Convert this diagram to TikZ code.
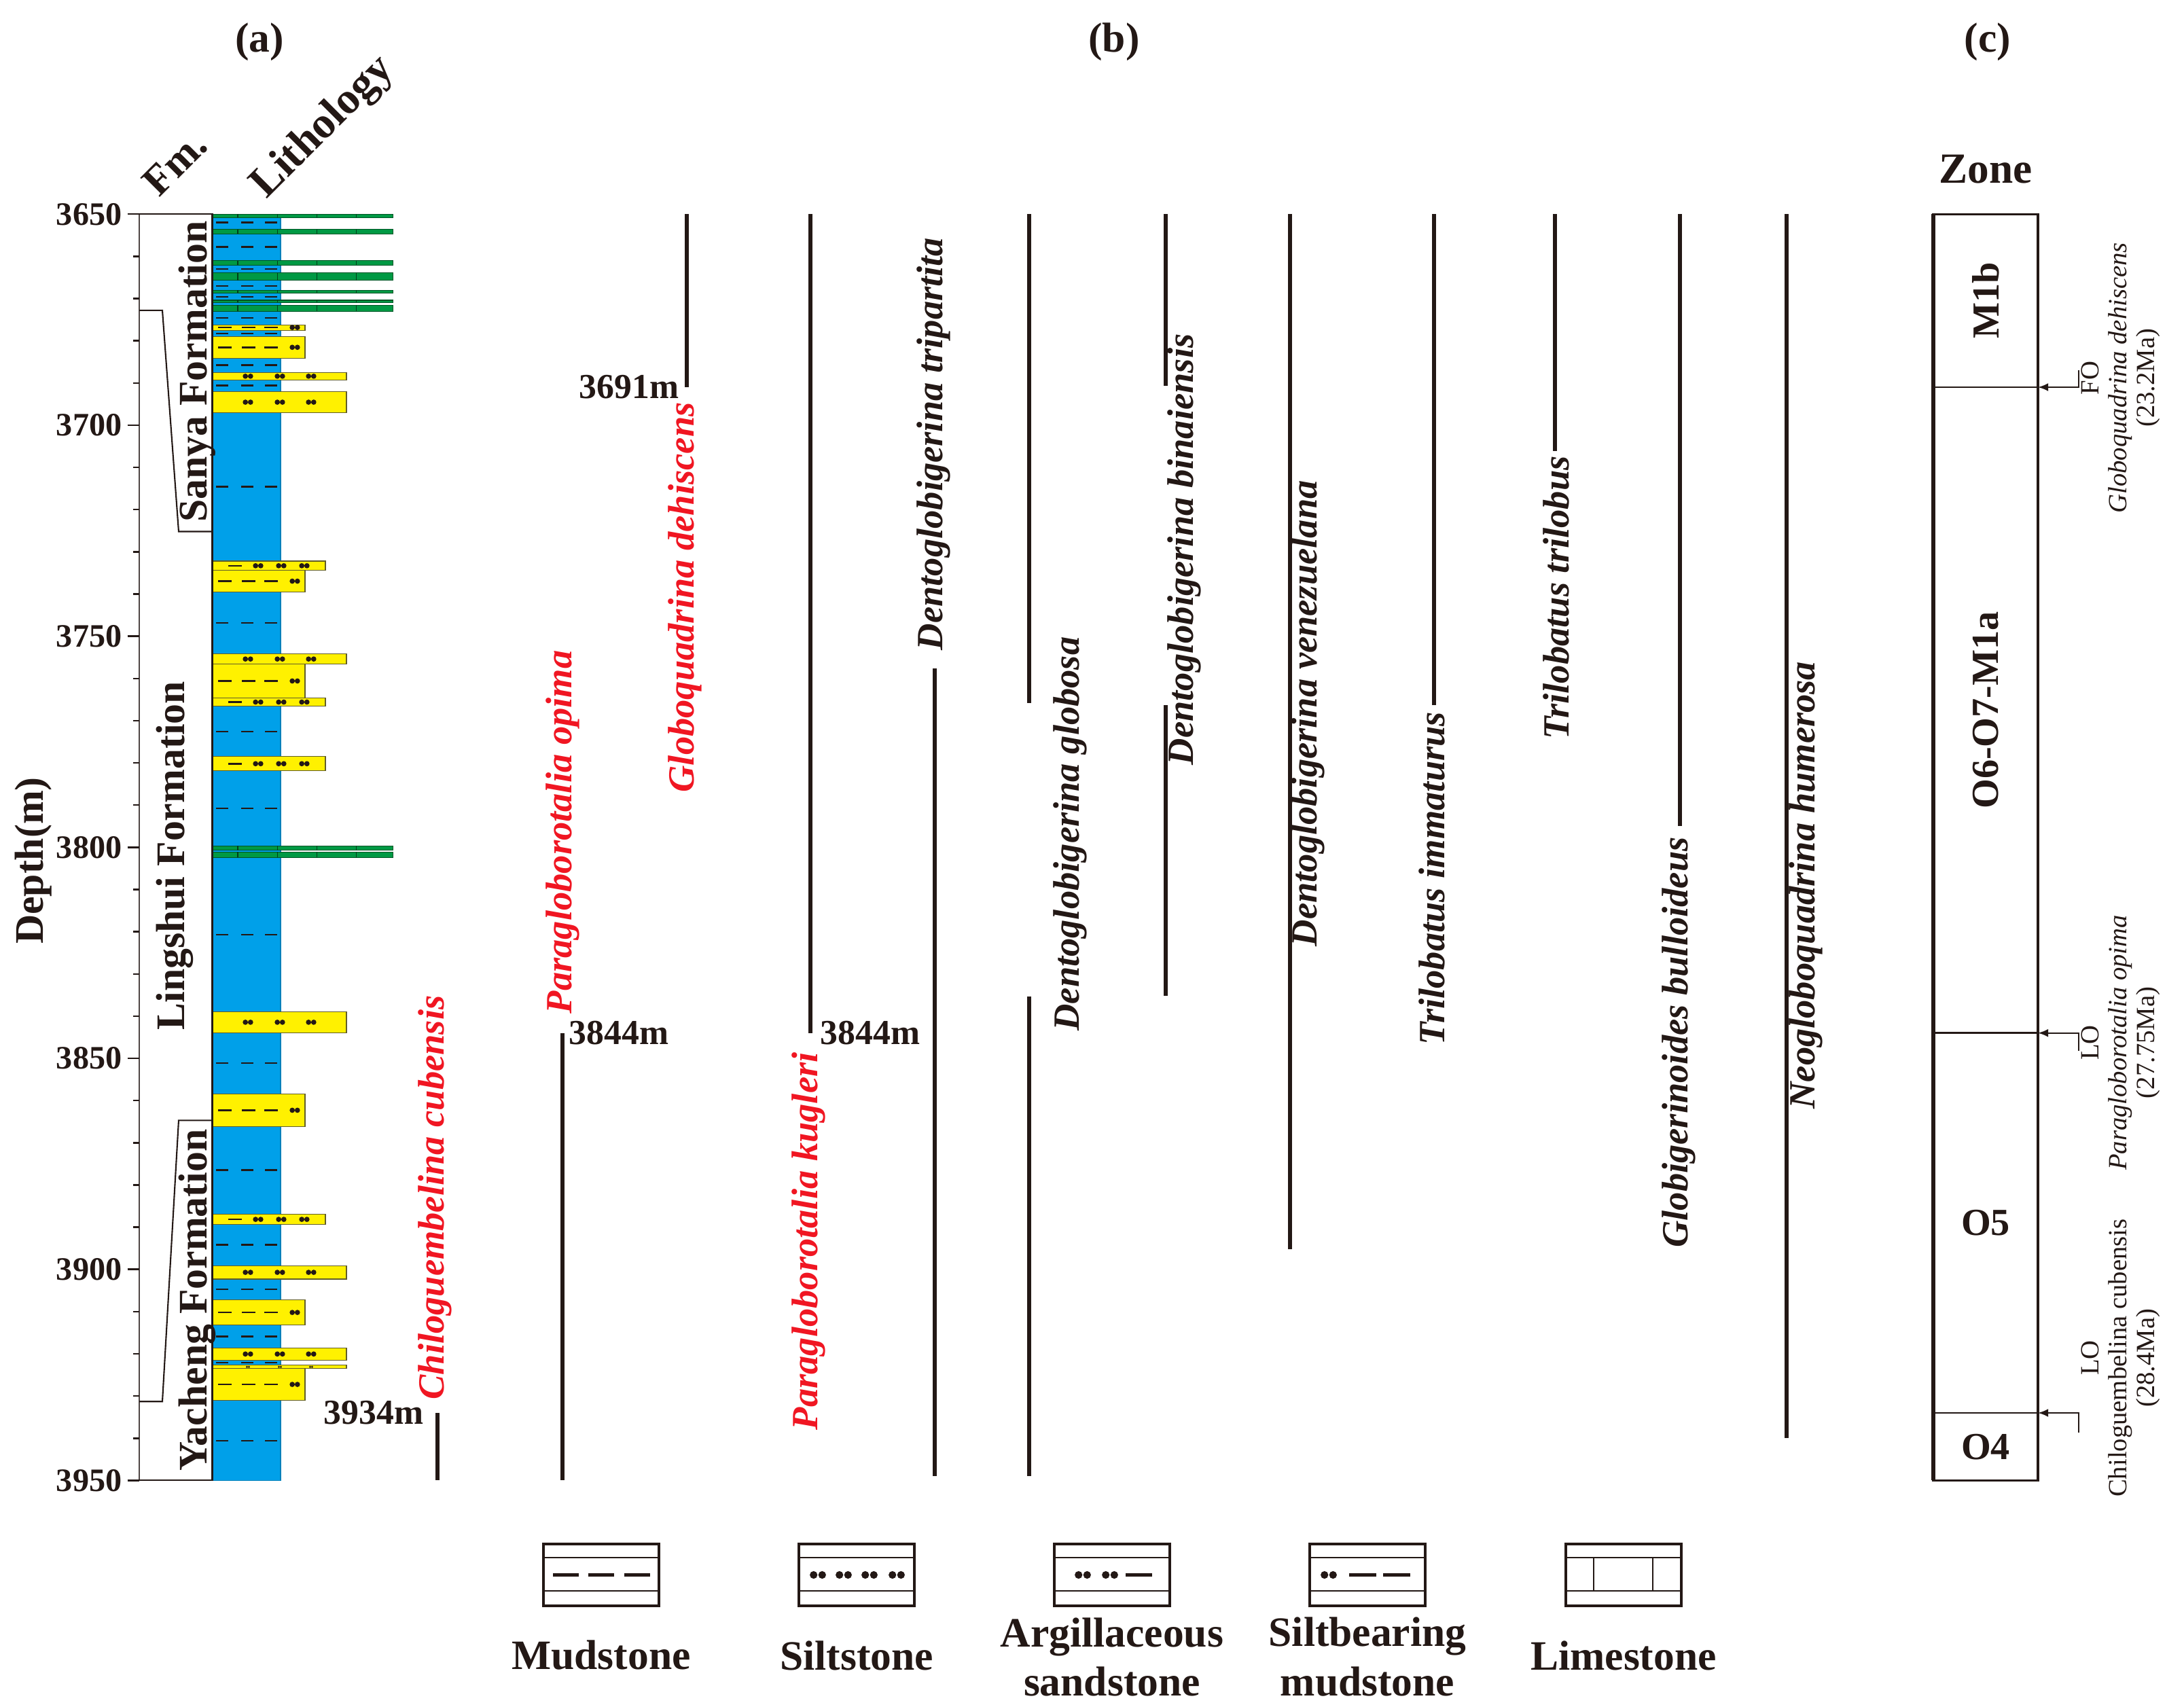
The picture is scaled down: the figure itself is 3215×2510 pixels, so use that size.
\documentclass[tikz,border=0pt]{standalone}
\usepackage{fontspec}
\setmainfont{Liberation Serif}
\usetikzlibrary{arrows.meta}
\definecolor{ink}{RGB}{35,24,21}
\definecolor{mudblue}{RGB}{0,160,233}
\definecolor{siltyel}{RGB}{255,241,0}
\definecolor{limegrn}{RGB}{0,153,68}
\definecolor{fossred}{RGB}{240,22,34}
\tikzset{
  rangeline/.style={draw=ink, line width=1.8pt},
  taxon/.style={rotate=90, inner sep=0pt, text=ink, font=\fontsize{15.5}{16}\selectfont\bfseries\itshape},
  redtaxon/.style={taxon, text=fossred},
  depthlbl/.style={inner sep=0pt, text=ink, font=\fontsize{13.7}{14}\selectfont\bfseries},
  taglbl/.style={inner sep=0pt, text=ink, font=\fontsize{14.7}{15}\selectfont\bfseries},
  fmlbl/.style={rotate=90, inner sep=0pt, text=ink, font=\fontsize{17}{18}\selectfont\bfseries},
  headlbl/.style={inner sep=0pt, text=ink, font=\fontsize{17.5}{18}\selectfont\bfseries},
  zonelbl/.style={inner sep=0pt, text=ink, font=\fontsize{16}{17}\selectfont\bfseries},
  datum/.style={rotate=90, inner sep=0pt, align=center, text=ink, font=\fontsize{11}{11.6}\selectfont},
  legtext/.style={inner sep=0pt, align=center, text=ink, font=\fontsize{17.5}{20.5}\selectfont\bfseries},
  marker/.style={draw=ink, line width=0.7pt},
  bedline/.style={draw=olive!60!black, line width=0.3pt},
  tip/.style={draw=ink, line width=0.7pt, -{Latex[length=4.3pt,width=3.4pt]}},
}
\newcommand{\mudmark}[1]{\foreach \mx in {318,355,390}{\draw[marker] (\mx,#1) -- ++(18,0);}}
\newcommand{\grains}[2]{\fill[ink] (#1-3.8,{#2}) circle[radius=1.1pt] (#1+3.8,{#2}) circle[radius=1.1pt];}
\newcommand{\limebed}[2]{%
  \filldraw[fill=limegrn, draw=limegrn!55!black, line width=0.3pt] (312.5,#1) rectangle (578.5,#2);
  \foreach \lx in {350,408.5,466.5,524.5}{\draw[limegrn!40!black, line width=0.4pt] (\lx,#1) -- (\lx,#2);}}
\newcommand{\siltbed}[2]{%
  \filldraw[fill=siltyel, bedline] (312.5,#1) rectangle (510,#2);
  \foreach \gx in {365,412,458}{\grains{\gx}{(#1+#2)/2}}}
\newcommand{\argbed}[2]{%
  \filldraw[fill=siltyel, bedline] (312.5,#1) rectangle (479,#2);
  \draw[marker] (336,{(#1+#2)/2}) -- ++(20,0);
  \foreach \gx in {380,414,448}{\grains{\gx}{(#1+#2)/2}}}
\newcommand{\smudbed}[2]{%
  \filldraw[fill=siltyel, bedline] (312.5,#1) rectangle (449,#2);
  \foreach \mx in {321,356,389}{\draw[marker] (\mx,{(#1+#2)/2}) -- ++(20,0);}
  \grains{434}{(#1+#2)/2}}
\newcommand{\legbox}[1]{%
  \draw[ink, line width=1.1pt] (#1-85,2273) rectangle (#1+85,2364);
  \draw[ink, line width=0.6pt] (#1-85,2293) -- (#1+85,2293) (#1-85,2342) -- (#1+85,2342);}
\newcommand{\leggrains}[1]{\fill[ink] (#1-6.3,2318.5) circle[radius=1.6pt] (#1+6.3,2318.5) circle[radius=1.6pt];}
\begin{document}
\begin{tikzpicture}[x=0.01cm, y=-0.01cm]
\useasboundingbox (0,0) rectangle (3215,2510);
\fill[white] (0,0) rectangle (3215,2510);
\node[headlbl] (hda) at (382,62) {(a)};
\node[headlbl] (hdb) at (1640,62) {(b)};
\node[headlbl] (hdc) at (2926,62) {(c)};
\node[headlbl, anchor=base west, rotate=45] (hfm) at (234,292) {Fm.};
\node[headlbl, anchor=base west, rotate=45, font=\fontsize{18.5}{19}\selectfont\bfseries] (hlith) at (392,294) {Lithology};
\node[headlbl, rotate=90, font=\fontsize{17}{18}\selectfont\bfseries] (hdepth) at (49,1267) {Depth(m)};
\node[headlbl, font=\fontsize{18}{19}\selectfont\bfseries] (hzone) at (2923,249) {Zone};
\begin{scope}[y=-0.0621cm, yshift=223.525cm]
\filldraw[fill=mudblue, draw=mudblue!80!black, line width=0.3pt] (312.5,3650) rectangle (413,3950);
\foreach \d in {3652,3657.8,3663,3667,3669.6,3674.6,3678.3,3685.8,3690.6,3714.6,3746.8,3772.6,3790.8,3820.7,3851.1,3876.5,3894.2,3904.7,3915.9,3922.1,3940.6}{\mudmark{\d}}
\limebed{3650}{3650.8}
\limebed{3653.6}{3654.7}
\limebed{3661}{3662.1}
\limebed{3663.9}{3665.7}
\limebed{3668}{3668.7}
\limebed{3670.4}{3670.9}
\limebed{3671.6}{3673}
\limebed{3799.7}{3800.7}
\limebed{3801.1}{3802.4}
\smudbed{3676.2}{3677.5}
\smudbed{3679}{3684.1}
\siltbed{3687.5}{3689.3}
\siltbed{3692}{3697.1}
\argbed{3732.2}{3734.4}
\smudbed{3734.4}{3739.5}
\siltbed{3754.2}{3756.6}
\smudbed{3756.6}{3764.6}
\argbed{3764.6}{3766.6}
\argbed{3778.5}{3781.9}
\siltbed{3838.9}{3844}
\smudbed{3858.5}{3866.1}
\argbed{3887}{3889.3}
\siltbed{3899.1}{3902.3}
\smudbed{3907.2}{3913.2}
\siltbed{3918.6}{3921.5}
\filldraw[fill=siltyel, bedline] (312.5,3922.7) rectangle (510,3923.5);
\foreach \gx in {365,412,458}{\fill[ink] (\gx-1.5,3923.1) circle[radius=0.45pt] (\gx+1.5,3923.1) circle[radius=0.45pt];}
\smudbed{3923.5}{3931}
\draw[ink!80, line width=0.6pt] (205,3650) -- (205,3950);
\foreach \d in {3660,3670,...,3940}{\draw[ink, line width=0.7pt] (196,\d) -- (205,\d);}
\foreach \d in {3650,3700,...,3950}{
  \draw[ink, line width=0.7pt] (187.5,\d) -- (205,\d);
  \node[depthlbl, anchor=east] (dep\d) at (180,\d) {\d};}
\draw[ink, line width=0.6pt] (205,3650) -- (312.5,3650) -- (312.5,3950) -- (205,3950);
\draw[ink, line width=0.6pt] (205,3672.8) -- (239,3672.8) -- (263,3725.2) -- (312.5,3725.2);
\draw[ink, line width=0.6pt] (312.5,3864.7) -- (263,3864.7) -- (239,3931.3) -- (205,3931.3);
\node[fmlbl] (fmsanya) at (290,3687.3) {Sanya Formation};
\node[fmlbl] (fmling) at (257,3802) {Lingshui Formation};
\node[fmlbl] (fmyach) at (290,3907.3) {Yacheng Formation};
\draw[rangeline] (644,3934) -- (644,3950);
\draw[rangeline] (828,3844) -- (828,3950);
\draw[rangeline] (1011,3650) -- (1011,3691);
\draw[rangeline] (1193,3650) -- (1193,3844);
\draw[rangeline] (1376,3757.6) -- (1376,3949);
\draw[rangeline] (1515,3650) -- (1515,3765.9) (1515,3835.3) -- (1515,3949);
\draw[rangeline] (1716,3650) -- (1716,3690.7) (1716,3766.3) -- (1716,3835.2);
\draw[rangeline] (1899,3650) -- (1899,3895.2);
\draw[rangeline] (2111,3650) -- (2111,3766.3);
\draw[rangeline] (2289,3650) -- (2289,3706.2);
\draw[rangeline] (2473,3650) -- (2473,3794.9);
\draw[rangeline] (2630,3650) -- (2630,3940);
\node[redtaxon, anchor=west] (chilo) at (640,3931) {Chiloguembelina cubensis};
\node[taglbl, anchor=east] (tag3934) at (624,3934) {3934m};
\node[redtaxon, anchor=west] (opima) at (828,3839.5) {Paragloborotalia opima};
\node[taglbl, anchor=west] (tag3844a) at (837,3844) {3844m};
\node[redtaxon, anchor=east] (dehis) at (1008,3694.5) {Globoquadrina dehiscens};
\node[taglbl, anchor=east] (tag3691) at (1000,3691) {3691m};
\node[redtaxon, anchor=east] (kugl) at (1190,3848.5) {Paragloborotalia kugleri};
\node[taglbl, anchor=west] (tag3844b) at (1207,3844) {3844m};
\node[taxon, anchor=west] (tripa) at (1374,3753.4) {Dentoglobigerina tripartita};
\node[taxon, anchor=west] (globo) at (1575,3843.6) {Dentoglobigerina globosa};
\node[taxon, anchor=west] (binai) at (1743,3780.6) {Dentoglobigerina binaiensis};
\node[taxon, anchor=west] (venez) at (1925,3823.6) {Dentoglobigerina venezuelana};
\node[taxon, anchor=east] (immat) at (2108,3767.8) {Trilobatus immaturus};
\node[taxon, anchor=east] (trilo) at (2291,3707.2) {Trilobatus trilobus};
\node[taxon, anchor=east] (bullo) at (2471,3797.5) {Globigerinoides bulloideus};
\node[taxon, anchor=west] (humer) at (2658,3862.1) {Neogloboquadrina humerosa};
\draw[ink, line width=0.9pt] (2846,3650) rectangle (3000,3950);
\draw[ink, line width=1.5pt] (2846,3650) -- (2846,3950);
\draw[ink, line width=0.8pt] (2846,3691) -- (3000,3691) (2846,3844) -- (3000,3844) (2846,3934) -- (3000,3934);
\node[zonelbl, rotate=90] (zm1b) at (2923,3670.5) {M1b};
\node[zonelbl, rotate=90] (zo6) at (2923,3767.5) {O6-O7-M1a};
\node[zonelbl] (zo5) at (2923,3889) {O5};
\node[zonelbl] (zo4) at (2923,3942) {O4};
\coordinate (zb1) at (3000,3691);
\coordinate (zb2) at (3000,3844);
\coordinate (zb3) at (3000,3934);
\coordinate (zt1) at (3060,3686.9);
\coordinate (zt2) at (3060,3848.2);
\coordinate (zt3) at (3060,3938.6);
\draw[tip] (zt1) |- (zb1);
\draw[tip] (zt2) |- (zb2);
\draw[tip] (zt3) |- (zb3);
\node[datum] (dat1) at (3122,3688.8) {FO\\\textit{Globoquadrina dehiscens}\\(23.2Ma)};
\node[datum] (dat2) at (3122,3846.3) {LO\\\textit{Paragloborotalia opima}\\(27.75Ma)};
\node[datum] (dat3) at (3122,3921) {LO\\Chiloguembelina cubensis\\(28.4Ma)};
\end{scope}
\legbox{885}
\foreach \mx in {814,866,919}{\draw[ink, line width=1.3pt] (\mx,2318.5) -- ++(38,0);}
\legbox{1261}
\foreach \gx in {1204,1242,1280,1320}{\leggrains{\gx}}
\legbox{1637}
\leggrains{1594}
\leggrains{1634}
\draw[ink, line width=1.3pt] (1657,2318.5) -- (1696,2318.5);
\legbox{2013}
\leggrains{1956}
\draw[ink, line width=1.3pt] (1986,2318.5) -- (2026,2318.5) (2036,2318.5) -- (2076,2318.5);
\legbox{2390}
\draw[ink, line width=0.6pt] (2346,2293) -- (2346,2342) (2433,2293) -- (2433,2342);
\node[legtext] (lgmud) at (885,2437) {Mudstone};
\node[legtext] (lgsilt) at (1261,2437) {Siltstone};
\node[legtext] (lgarg) at (1637,2439) {Argillaceous\\sandstone};
\node[legtext] (lgsbm) at (2013,2439) {Siltbearing\\mudstone};
\node[legtext] (lglime) at (2390,2437) {Limestone};
\end{tikzpicture}
\end{document}
